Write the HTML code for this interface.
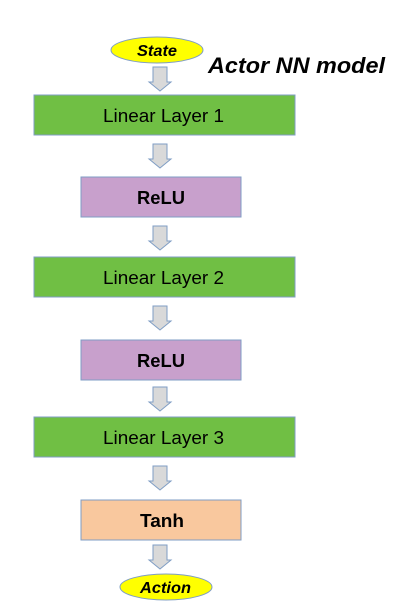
<!DOCTYPE html>
<html><head><meta charset="utf-8"><style>
html,body{margin:0;padding:0;background:#fff;width:400px;height:610px;overflow:hidden}
svg{display:block}
text{font-family:"Liberation Sans",sans-serif}
</style></head><body>
<svg width="400" height="610" viewBox="0 0 400 610">
<defs>
<g id="arr"><path d="M-7,0 H7 V15 H11 L0,24 L-11,15 H-7 Z" fill="#d9d9d9" stroke="#7f9dc4" stroke-width="1"/></g>
</defs>
<g>
<ellipse cx="157" cy="50" rx="46" ry="13" fill="#ffff00" stroke="#7f9dc4" stroke-width="1"/>
<text x="137" y="56" textLength="40" lengthAdjust="spacingAndGlyphs" font-size="16" font-weight="bold" font-style="italic">State</text>
</g>
<text x="208" y="73" textLength="177" lengthAdjust="spacingAndGlyphs" font-size="22" font-weight="bold" font-style="italic">Actor NN model</text>
<use href="#arr" x="160" y="67"/>
<g>
<rect x="34" y="95" width="261" height="40" fill="#70bf44" stroke="#7f9dc4"/>
<text x="103" y="122" textLength="121" lengthAdjust="spacingAndGlyphs" font-size="18">Linear Layer 1</text></g>
<use href="#arr" x="160" y="144"/>
<g>
<rect x="81" y="177" width="160" height="40" fill="#c8a0cc" stroke="#7f9dc4"/>
<text x="137" y="204" textLength="48" lengthAdjust="spacingAndGlyphs" font-size="18" font-weight="bold">ReLU</text></g>
<use href="#arr" x="160" y="226"/>
<g>
<rect x="34" y="257" width="261" height="40" fill="#70bf44" stroke="#7f9dc4"/>
<text x="103" y="284" textLength="121" lengthAdjust="spacingAndGlyphs" font-size="18">Linear Layer 2</text></g>
<use href="#arr" x="160" y="306"/>
<g>
<rect x="81" y="340" width="160" height="40" fill="#c8a0cc" stroke="#7f9dc4"/>
<text x="137" y="367" textLength="48" lengthAdjust="spacingAndGlyphs" font-size="18" font-weight="bold">ReLU</text></g>
<use href="#arr" x="160" y="387"/>
<g>
<rect x="34" y="417" width="261" height="40" fill="#70bf44" stroke="#7f9dc4"/>
<text x="103" y="444" textLength="121" lengthAdjust="spacingAndGlyphs" font-size="18">Linear Layer 3</text></g>
<use href="#arr" x="160" y="466"/>
<g>
<rect x="81" y="500" width="160" height="40" fill="#f9c89e" stroke="#7f9dc4"/>
<text x="140" y="527" textLength="44" lengthAdjust="spacingAndGlyphs" font-size="18" font-weight="bold">Tanh</text></g>
<use href="#arr" x="160" y="545"/>
<g>
<ellipse cx="166" cy="587" rx="46" ry="13" fill="#ffff00" stroke="#7f9dc4" stroke-width="1"/>
<text x="140" y="593" textLength="51" lengthAdjust="spacingAndGlyphs" font-size="16" font-weight="bold" font-style="italic">Action</text>
</g>
</svg>
</body></html>
